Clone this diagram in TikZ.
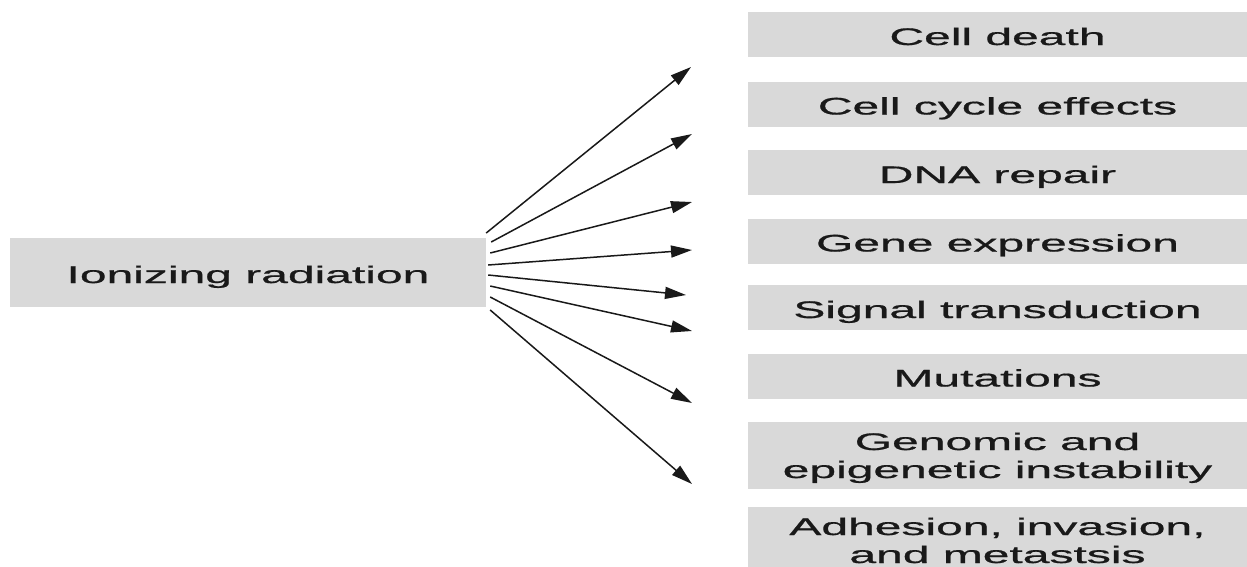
\documentclass[tikz,border=0pt]{standalone}
\usepackage{fontspec}
\setmainfont{Liberation Sans}[FakeBold=0.6]
\usetikzlibrary{arrows.meta}
\definecolor{boxgray}{RGB}{217,217,217}
\definecolor{inkc}{RGB}{25,25,25}
\newcommand{\wide}[1]{\scalebox{2}[1]{#1}}
\begin{document}
\begin{tikzpicture}[x=1pt,y=-1pt,
  box/.style={fill=boxgray, draw=none, inner sep=0pt, text=inkc,
    font=\fontsize{24}{28}\selectfont},
  onebox/.style={box, minimum width=499pt, minimum height=45pt,
    text height=21pt, text depth=0pt},
  arr/.style={-{Triangle[length=21pt,width=12pt]}, line width=1.5pt, draw=inkc}]
\useasboundingbox (0,0) rectangle (1247,566);

\node[box, minimum width=476pt, minimum height=69pt, text height=21pt, text depth=0pt]
  (ir) at (248,272.5) {\wide{Ionizing radiation}};

\node[onebox] (b1) at (997.5,34.5)  {\wide{Cell death}};
\node[onebox] (b2) at (997.5,104)   {\wide{Cell cycle effects}};
\node[onebox] (b3) at (997.5,172.5) {\wide{DNA repair}};
\node[onebox] (b4) at (997.5,241)   {\wide{Gene expression}};
\node[onebox] (b5) at (997.5,307.5) {\wide{Signal transduction}};
\node[onebox] (b6) at (997.5,376)   {\wide{Mutations}};
\node[box, minimum width=499pt, minimum height=67pt, text height=20pt, text depth=31pt]
  (b7) at (997.5,455.5) {\wide{\begin{tabular}[t]{@{}c@{}}Genomic and\\epigenetic instability\end{tabular}}};
\node[box, minimum width=499pt, minimum height=63pt, text height=20pt, text depth=27pt]
  (b8) at (997.5,538.5) {\wide{\begin{tabular}[t]{@{}c@{}}Adhesion, invasion,\\and metastsis\end{tabular}}};

\coordinate (t1) at (691,67);
\coordinate (t2) at (692,134);
\coordinate (t3) at (692,202);
\coordinate (t4) at (692,250);
\coordinate (t5) at (686,295);
\coordinate (t6) at (692,331);
\coordinate (t7) at (692,403);
\coordinate (t8) at (692,484);

\draw[arr] ([xshift=0pt,yshift=39.5pt]ir.east) -- (t1);
\draw[arr] ([xshift=5pt,yshift=30.5pt]ir.east) -- (t2);
\draw[arr] ([xshift=4pt,yshift=19.5pt]ir.east) -- (t3);
\draw[arr] ([xshift=2pt,yshift=7.5pt]ir.east) -- (t4);
\draw[arr] ([xshift=2pt,yshift=-2.5pt]ir.east) -- (t5);
\draw[arr] ([xshift=4pt,yshift=-13.5pt]ir.east) -- (t6);
\draw[arr] ([xshift=4pt,yshift=-24.5pt]ir.east) -- (t7);
\draw[arr] ([xshift=4pt,yshift=-37.5pt]ir.east) -- (t8);
\end{tikzpicture}
\end{document}
